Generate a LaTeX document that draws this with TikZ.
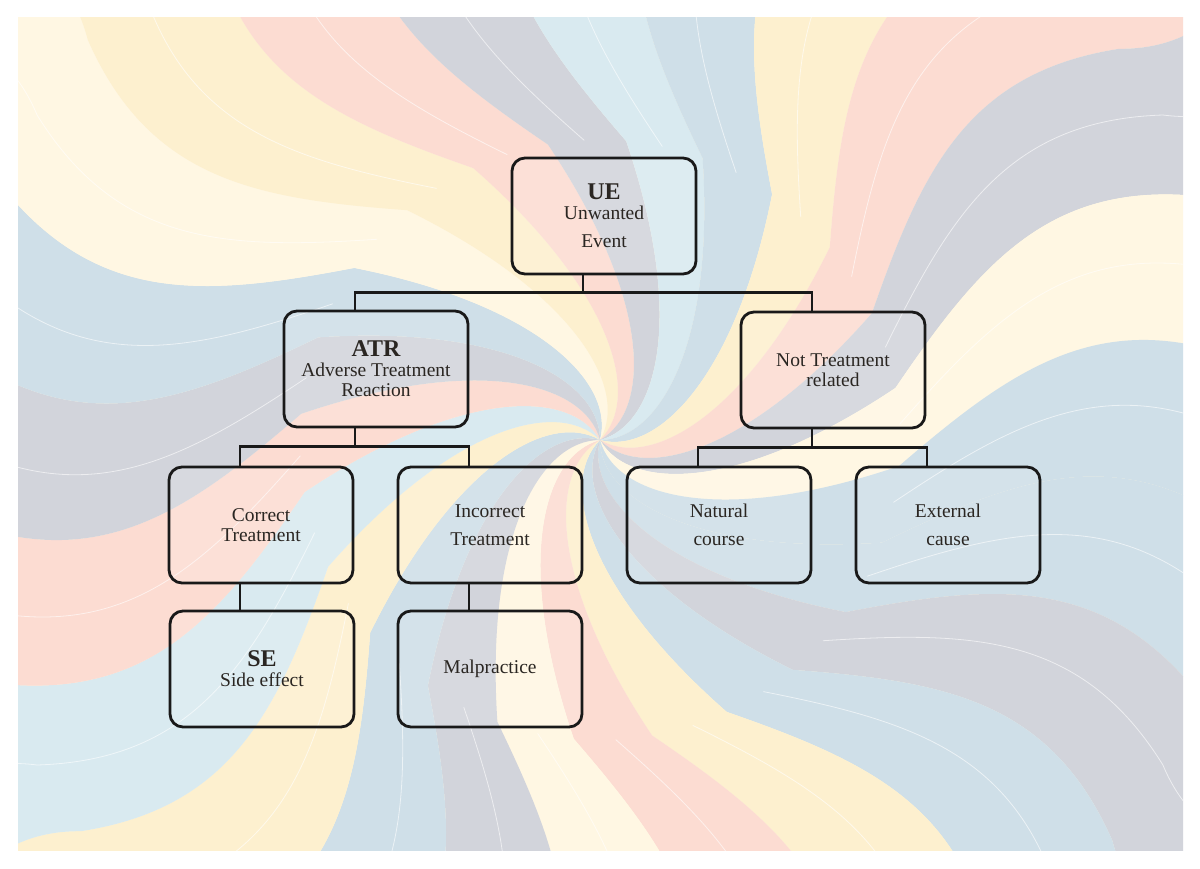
\documentclass[tikz,border=0pt]{standalone}
\usepackage{fontspec}
\setmainfont{Liberation Serif}
\usetikzlibrary{positioning}

\definecolor{bgBlue}{HTML}{CFDFE8}
\definecolor{bgGray}{HTML}{D2D4DB}
\definecolor{bgYellow}{HTML}{FDF0CF}
\definecolor{bgPink}{HTML}{FCDCD2}
\definecolor{bgCyan}{HTML}{D9EAF0}
\definecolor{bgCream}{HTML}{FFF7E3}
\definecolor{inkDark}{HTML}{2A2622}

\begin{document}
\begin{tikzpicture}[
  x=1pt, y=-1pt,
  box/.style={rectangle, draw=black!90, line width=2.8pt, rounded corners=13pt,
              minimum width=184pt, minimum height=116pt, align=center,
              fill=white, fill opacity=0.12, text opacity=1, text=inkDark,
              font=\fontsize{19.5}{20}\selectfont},
  link/.style={draw=black!90, line width=2.8pt},
  title/.style={font=\fontsize{24}{24}\selectfont\bfseries}
]

\def\off{-21pt}

% background
\fill[white] (0,0) rectangle (1200,868);
\begin{scope}
  \clip (18,17) rectangle (1183,850);
  \fill[bgCream] (18,17) rectangle (1183,850);
  \begin{scope}[shift={(600,440)}]
    \foreach \a/\c in {0/bgBlue, 15/bgGray, 30/bgBlue, 45/bgYellow, 60/bgPink,
                       75/bgCream, 90/bgGray, 105/bgBlue, 120/bgYellow, 135/bgCyan,
                       150/bgPink, 165/bgGray, 180/bgBlue, 195/bgCream, 210/bgYellow,
                       225/bgPink, 240/bgGray, 255/bgCyan, 270/bgBlue, 285/bgYellow,
                       300/bgPink, 315/bgGray, 330/bgCream, 345/bgBlue}{
      \pgfmathsetmacro\b{\a+15}
      \fill[\c] (0,0) .. controls (\a+90:60) and (\a+50:150) .. (\a+20:300)
        .. controls (\a+5:420) and (\a:520) .. (\a+8:650)
        .. controls (\a+15:780) and (\a+5:900) .. (\a:1100)
        -- (\b:1100)
        .. controls (\b+5:900) and (\b+15:780) .. (\b+8:650)
        .. controls (\b:520) and (\b+5:420) .. (\b+20:300)
        .. controls (\b+50:150) and (\b+90:60) .. (0,0) -- cycle;
      \draw[white, line width=0.8pt, opacity=0.6]
        (\a+27:300) .. controls (\a+12:420) and (\a+7:520) .. (\a+15:650)
        .. controls (\a+22:780) and (\a+12:900) .. (\a+7:1100);
    }
  \end{scope}
\end{scope}

% boxes
\node[box] (ue)   at (604,216) {{\fontsize{24}{24}\selectfont\bfseries UE}\\Unwanted\\[8pt]Event};
\node[box] (atr)  at (376,369) {{\fontsize{24}{24}\selectfont\bfseries ATR}\\Adverse Treatment\\Reaction};
\node[box] (nt)   at (833,370) {Not Treatment\\related};
\node[box] (corr) at (261,525) {Correct\\Treatment};
\node[box] (inc)  at (490,525) {Incorrect\\[8pt]Treatment};
\node[box] (nat)  at (719,525) {Natural\\[8pt]course};
\node[box] (ext)  at (948,525) {External\\[8pt]cause};
\node[box] (se)   at (262,669) {{\fontsize{24}{24}\selectfont\bfseries SE}\\Side effect};
\node[box] (mal)  at (490,669) {Malpractice};

% connectors
\coordinate (ueBus)  at ([xshift=\off,yshift=-17pt]ue.south);
\coordinate (atrBus) at ([xshift=\off,yshift=-18pt]atr.south);
\coordinate (ntBus)  at ([xshift=\off,yshift=-18pt]nt.south);

\draw[link] ([xshift=\off]ue.south) -- (ueBus);
\draw[link] ([xshift=\off]atr.north) |- (ueBus) -| ([xshift=\off]nt.north);
\draw[link] ([xshift=\off]atr.south) -- (atrBus);
\draw[link] ([xshift=\off]corr.north) |- (atrBus) -| ([xshift=\off]inc.north);
\draw[link] ([xshift=\off]nt.south) -- (ntBus);
\draw[link] ([xshift=\off]nat.north) |- (ntBus) -| ([xshift=\off]ext.north);
\draw[link] ([xshift=\off]corr.south) -- ([xshift=-22pt]se.north);
\draw[link] ([xshift=\off]inc.south) -- ([xshift=\off]mal.north);

\end{tikzpicture}
\end{document}
